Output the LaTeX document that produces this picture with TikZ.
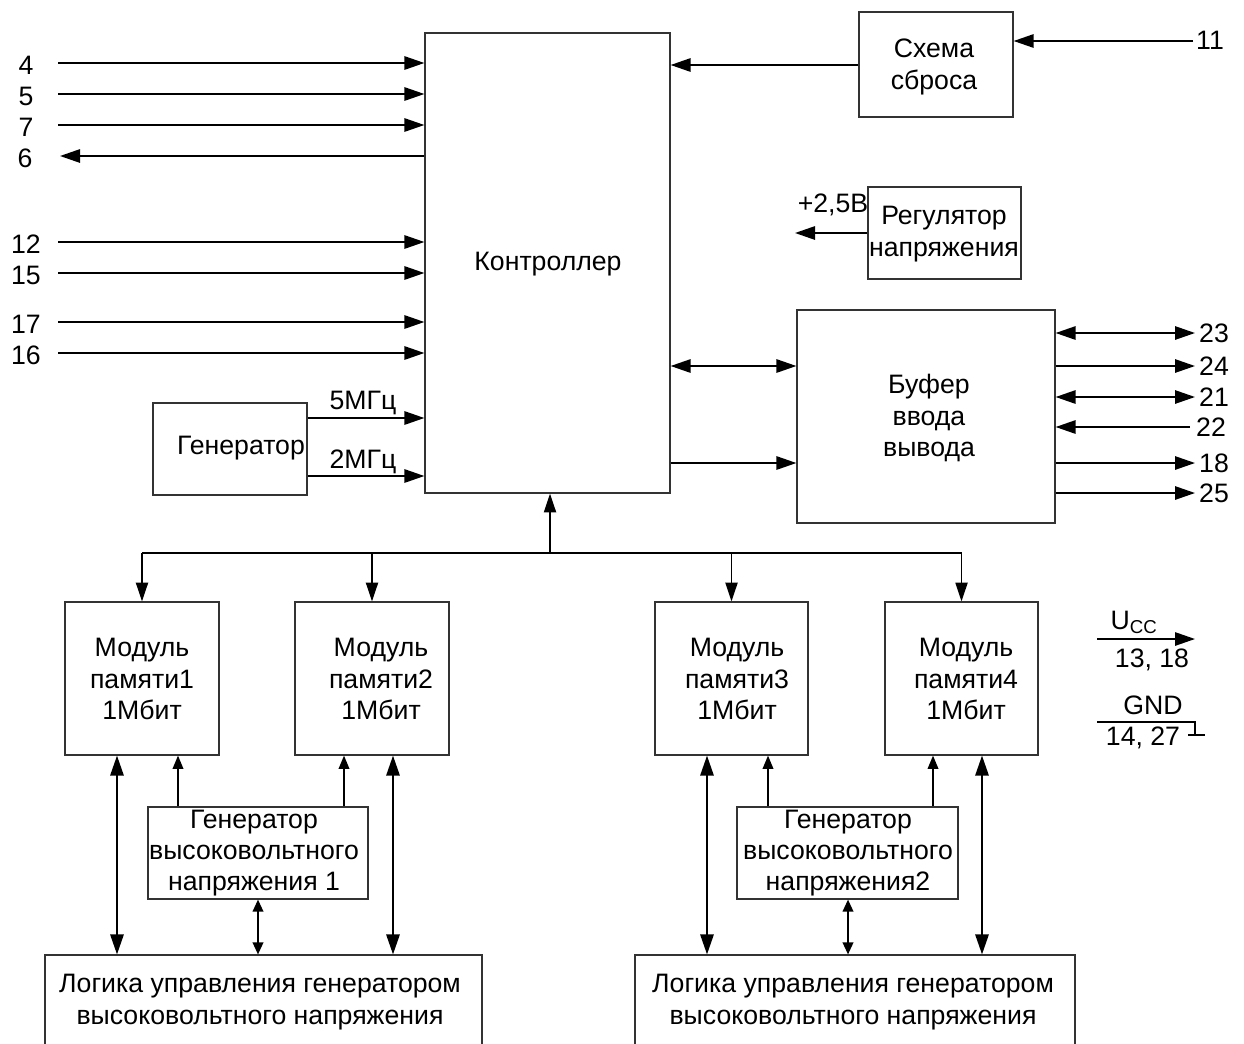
\documentclass[tikz,border=0pt]{standalone}
\usepackage{fontspec}
\setmainfont{Liberation Sans}
\usetikzlibrary{arrows.meta,fit}
\begin{document}
\begin{tikzpicture}[x=0.75pt,y=-0.75pt,
  box/.style={draw=black!80,line width=0.9pt,inner sep=0pt},
  lbl/.style={inner sep=0pt,align=center,font=\fontsize{20pt}{23.5pt}\selectfont},
  arr/.style={line width=1.4pt,-{Triangle[length=15pt,width=10pt]}},
  darr/.style={line width=1.4pt,{Triangle[length=15pt,width=10pt]}-{Triangle[length=15pt,width=10pt]}},
  arrS/.style={line width=1.2pt,-{Triangle[length=10pt,width=8pt]}},
  darrS/.style={line width=1.2pt,{Triangle[length=9pt,width=8pt]}-{Triangle[length=9pt,width=8pt]}},
  arrB/.style={line width=1.4pt,-{Triangle[length=14pt,width=9pt]}},
  wire/.style={line width=1.6pt}]
\useasboundingbox (0,0) rectangle (1244,1043);
\fill[white] (0,0) rectangle (1244,1043);
\clip (0,0) rectangle (1244,1043);

% ---- boxes
\node[box,fit={(425,33) (670,493)}] (ctrl) {};
\node[box,fit={(153,403) (307,495)}] (gen) {};
\node[box,fit={(859,12) (1013,117)}] (rst) {};
\node[box,fit={(868,187) (1021,279)}] (reg) {};
\node[box,fit={(797,310) (1055,523)}] (buf) {};
\node[box,fit={(65,602) (219,755)}] (m1) {};
\node[box,fit={(295,602) (449,755)}] (m2) {};
\node[box,fit={(655,602) (808,755)}] (m3) {};
\node[box,fit={(885,602) (1038,755)}] (m4) {};
\node[box,fit={(148,807) (368,899)}] (hv1) {};
\node[box,fit={(737,807) (958,899)}] (hv2) {};
\node[box,fit={(45,955) (482,1075)}] (lg1) {};
\node[box,fit={(635,955) (1075,1075)}] (lg2) {};

% ---- box texts
\node[lbl] (ctrlT) at (548,264) {Контроллер};
\node[lbl] (genT) at (241,448) {Генератор};
\node[lbl] (rstT) at (934,67) {Схема\\сброса};
\node[lbl] (regT) at (944,234) {Регулятор\\напряжения};
\node[lbl] (bufT) at (929,418) {Буфер\\ввода\\вывода};
\node[lbl] (m1T) at (142,679) {Модуль\\памяти1\\1Мбит};
\node[lbl] (m2T) at (381,679) {Модуль\\памяти2\\1Мбит};
\node[lbl] (m3T) at (737,679) {Модуль\\памяти3\\1Мбит};
\node[lbl] (m4T) at (966,679) {Модуль\\памяти4\\1Мбит};
\node[lbl] (hv1T) at (254,853) {Генератор\\высоковольтного\\напряжения 1};
\node[lbl] (hv2T) at (848,853) {Генератор\\высоковольтного\\напряжения2};
\node[lbl] (lg1T) at (260,1002) {Логика управления генератором\\высоковольтного напряжения};
\node[lbl] (lg2T) at (853,1002) {Логика управления генератором\\высоковольтного напряжения};

% ---- left inputs to controller
\foreach \yy/\lab in {63/4,94/5,125/7,242/12,273/15,322/17,353/16}{
  \coordinate (in\lab) at (58,\yy);
  \node[lbl] (in\lab T) at (26,\yy+2) {\lab};
  \draw[arr] (in\lab) -- (in\lab -| ctrl.west);
}
\coordinate (out6) at (60,156);
\node[lbl] (out6T) at (25,158) {6};
\draw[arr] (out6 -| ctrl.west) -- (out6);

% ---- generator to controller
\coordinate (y5) at (0,418);
\coordinate (y2) at (0,476);
\draw[arr] (gen.east |- y5) -- (ctrl.west |- y5);
\draw[arr] (gen.east |- y2) -- (ctrl.west |- y2);
\node[lbl] (f5) at (363,403) {5МГц};
\node[lbl] (f2) at (363,462) {2МГц};

% ---- reset
\coordinate (p11) at (1193,41);
\node[lbl] (p11T) at (1210,40) {11};
\draw[arr] (p11) -- (p11 -| rst.east);
\coordinate (yr) at (0,65);
\draw[arr] (rst.west |- yr) -- (ctrl.east |- yr);

% ---- regulator
\coordinate (v25) at (795,233);
\draw[arr] (reg.west |- v25) -- (v25);
\node[lbl] (v25T) at (833,205) {+2,5В};

% ---- controller to buffer
\coordinate (yb1) at (0,366);
\coordinate (yb2) at (0,463);
\draw[darr] (ctrl.east |- yb1) -- (buf.west |- yb1);
\draw[arr] (ctrl.east |- yb2) -- (buf.west |- yb2);

% ---- buffer pins
\coordinate (b23) at (1195,333);
\coordinate (b24) at (1195,366);
\coordinate (b21) at (1195,397);
\coordinate (b22) at (1190,427);
\coordinate (b18) at (1195,463);
\coordinate (b25) at (1195,493);
\draw[darr] (buf.east |- b23) -- (b23);
\draw[arr] (buf.east |- b24) -- (b24);
\draw[darr] (buf.east |- b21) -- (b21);
\draw[arr] (b22) -- (buf.east |- b22);
\draw[arr] (buf.east |- b18) -- (b18);
\draw[arr] (buf.east |- b25) -- (b25);
\node[lbl] (b23T) at (1214,333) {23};
\node[lbl] (b24T) at (1214,366) {24};
\node[lbl] (b21T) at (1214,397) {21};
\node[lbl] (b22T) at (1211,427) {22};
\node[lbl] (b18T) at (1214,463) {18};
\node[lbl] (b25T) at (1214,493) {25};

% ---- bus
\coordinate (busC) at (550,553);
\draw[wire] (m1.north |- busC) -- (m4.north |- busC);
\draw[arrB] (busC) -- (busC |- ctrl.south);
\foreach \m in {m1,m2,m3,m4}{
  \draw[arrB] (\m.north |- busC) -- (\m.north);
}

% ---- memory / HV generator / logic links
\foreach \xx/\top/\bot in {117/m1/lg1,393/m2/lg1,707/m3/lg2,982/m4/lg2}{
  \coordinate (v\xx) at (\xx,0);
  \draw[darr] (\top.south -| v\xx) -- (\bot.north -| v\xx);
}
\foreach \xx/\top/\bot in {178/m1/hv1,344/m2/hv1,768/m3/hv2,933/m4/hv2}{
  \coordinate (u\xx) at (\xx,0);
  \draw[arrS] (\bot.north -| u\xx) -- (\top.south -| u\xx);
}
\foreach \xx/\top/\bot in {258/hv1/lg1,848/hv2/lg2}{
  \coordinate (w\xx) at (\xx,0);
  \draw[darrS] (\top.south -| w\xx) -- (\bot.north -| w\xx);
}

% ---- power
\coordinate (ucc0) at (1097,639);
\coordinate (ucc1) at (1195,639);
\draw[arr] (ucc0) -- (ucc1);
\node[lbl] (uccT) at (1134,622) {U\textsubscript{CC}};
\node[lbl] (uccN) at (1152,660) {13, 18};
\coordinate (gnd0) at (1097,722);
\coordinate (gnd1) at (1195,722);
\coordinate (gnd2) at (1195,735);
\coordinate (gndL) at (1188,735);
\coordinate (gndR) at (1205,735);
\draw[line width=1.2pt] (gnd0) -- (gnd1) -- (gnd2);
\draw[line width=1.2pt] (gndL) -- (gndR);
\node[lbl] (gndT) at (1153,705) {GND};
\node[lbl] (gndN) at (1143,738) {14, 27};
\end{tikzpicture}
\end{document}
